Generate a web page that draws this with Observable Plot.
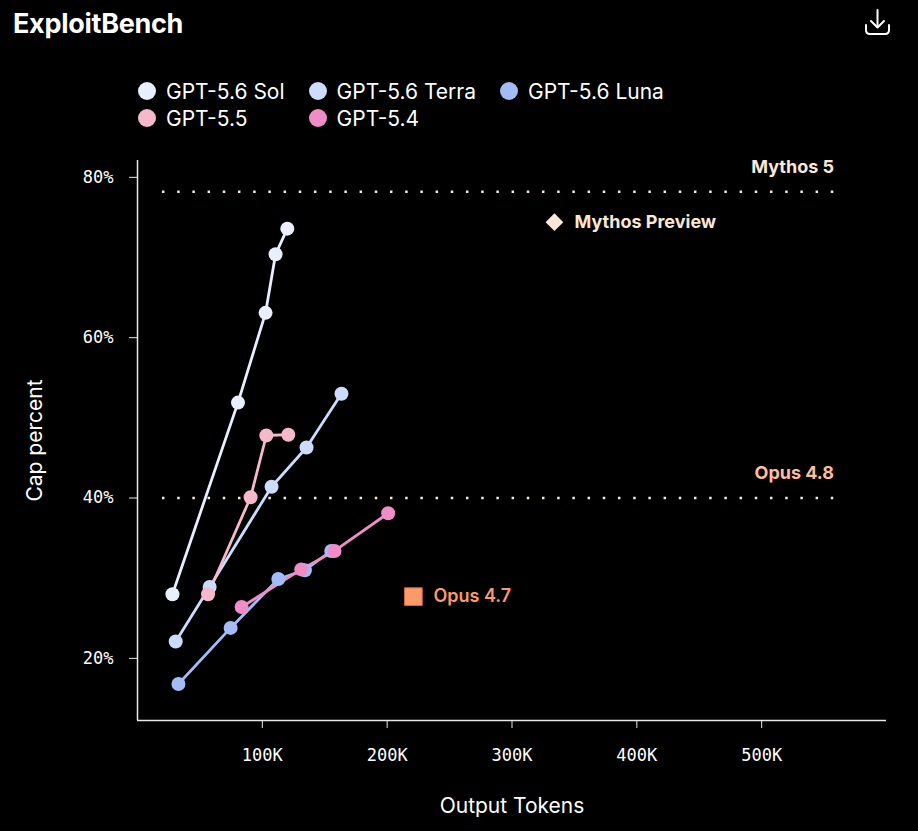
<!DOCTYPE html>
<html>
<head>
<meta charset="utf-8">
<script src="https://cdn.jsdelivr.net/npm/d3@7"></script>
<script src="https://cdn.jsdelivr.net/npm/@observablehq/plot@0.6"></script>
<style>
  html, body { margin: 0; padding: 0; background: #000; }
  #root { position: relative; width: 918px; height: 831px; background: #000; overflow: hidden; }
  #header { position: relative; width: 918px; height: 140px; }
  #title { position: absolute; left: 13px; top: 7px; font-family: Inter, sans-serif; font-weight: 700; font-size: 27px; color: #fff; letter-spacing: -0.3px; }
  #icon { position: absolute; left: 863px; top: 8px; }
  #legend { position: absolute; left: 138px; top: 78px; display: grid; grid-template-columns: repeat(3, auto); column-gap: 24px; row-gap: 1px; font-family: Inter, sans-serif; font-size: 21px; color: #fff; }
  .item { display: flex; align-items: center; gap: 10px; height: 26px; }
  .sw { width: 18px; height: 18px; border-radius: 50%; flex: none; }
</style>
</head>
<body>
<div id="root">
  <div id="header">
    <div id="title">ExploitBench</div>
    <svg id="icon" width="30" height="30" viewBox="0 0 30 30" fill="none" stroke="#fff" stroke-width="2" stroke-linecap="round" stroke-linejoin="round">
      <path d="M14.5 2 V19"/>
      <path d="M8 13 L14.5 19.5 L21 13"/>
      <path d="M3 17 V22 Q3 26 7 26 H22 Q26 26 26 22 V17"/>
    </svg>
    <div id="legend"></div>
  </div>
  <div id="chart"></div>
</div>
<script>
// ---- data ----
const seriesNames = ["GPT-5.6 Sol", "GPT-5.6 Terra", "GPT-5.6 Luna", "GPT-5.5", "GPT-5.4"];
const seriesColors = ["#e9efff", "#cddcfc", "#a3bbf6", "#f5b9cc", "#f08dc8"];

const solTokens = [28000, 80500, 102600, 110600, 120000];
const solCap = [28.0, 51.9, 63.1, 70.4, 73.6];
const terraTokens = [30600, 57800, 107400, 135400, 163400];
const terraCap = [22.1, 28.9, 41.4, 46.3, 53.0];
const lunaTokens = [32800, 74600, 112800, 134100, 155200];
const lunaCap = [16.8, 23.8, 29.9, 31.0, 33.4];
const gpt55Tokens = [56500, 90600, 103200, 120800];
const gpt55Cap = [28.0, 40.1, 47.8, 47.9];
const gpt54Tokens = [83400, 131200, 157800, 200800];
const gpt54Cap = [26.4, 31.1, 33.4, 38.1];

const refNames = ["Mythos 5", "Opus 4.8"];
const refValues = [78.2, 40];
const refStart = [20000, 20000];
const refEnd = [558000, 558000];
const refLabelColors = ["#fbe7d5", "#fcbd9e"];

const pointNames = ["Mythos Preview", "Opus 4.7"];
const pointTokens = [334000, 221000];
const pointCap = [74.4, 27.7];

const xTicks = [100000, 200000, 300000, 400000, 500000];
const yTicks = [20, 40, 60, 80];
const xDomain = [0, 600000];
const yDomain = [12.25, 82.1];

// ---- build tables ----
const tokenLists = [solTokens, terraTokens, lunaTokens, gpt55Tokens, gpt54Tokens];
const capLists = [solCap, terraCap, lunaCap, gpt55Cap, gpt54Cap];
const rows = [];
seriesNames.forEach((s, i) => {
  tokenLists[i].forEach((t, j) => rows.push({series: s, tokens: t, cap: capLists[i][j]}));
});
const refs = refNames.map((n, i) => ({name: n, value: refValues[i], x1: refStart[i], x2: refEnd[i], color: refLabelColors[i]}));
const pts = pointNames.map((n, i) => ({name: n, tokens: pointTokens[i], cap: pointCap[i]}));

// ---- legend ----
const legend = document.getElementById("legend");
seriesNames.forEach((s, i) => {
  const it = document.createElement("div");
  it.className = "item";
  it.innerHTML = `<span class="sw" style="background:${seriesColors[i]}"></span><span>${s}</span>`;
  legend.appendChild(it);
});

const mono = "'DejaVu Sans Mono', monospace";
const axisColor = "#e8e8e8";

const chart = Plot.plot({
  width: 918,
  height: 691,
  marginTop: 20,
  marginBottom: 111,
  marginLeft: 137,
  marginRight: 32,
  style: {background: "#000", color: "#fff", fontFamily: "Inter, sans-serif", overflow: "visible"},
  x: {domain: xDomain},
  y: {domain: yDomain},
  color: {domain: seriesNames, range: seriesColors},
  marks: [
    Plot.ruleX([xDomain[0]], {stroke: axisColor, strokeWidth: 1.5}),
    Plot.ruleY([yDomain[0]], {stroke: axisColor, strokeWidth: 1.5}),
    Plot.axisY({ticks: yTicks, tickFormat: d => d + "%", tickSize: 8, tickPadding: 16, stroke: axisColor, fill: "#fff", fontFamily: mono, fontSize: 17, label: null}),
    Plot.axisX({ticks: xTicks, tickFormat: d => (d / 1000) + "K", tickSize: 8, tickPadding: 20, stroke: axisColor, fill: "#fff", fontFamily: mono, fontSize: 17, label: null}),
    Plot.text(["Cap percent"], {frameAnchor: "left", textAnchor: "middle", lineAnchor: "middle", rotate: -90, dx: -102, fill: "#fff", fontSize: 21}),
    Plot.text(["Output Tokens"], {frameAnchor: "bottom", lineAnchor: "middle", dy: 86, fill: "#fff", fontSize: 21}),
    Plot.ruleY(refs, {y: "value", x1: "x1", x2: "x2", stroke: "#fbe7d5", strokeWidth: 2.5, strokeDasharray: "2.5 12.7"}),
    Plot.text(refs, {x: 558000, y: "value", text: "name", textAnchor: "end", dy: -25, fill: "color", fontWeight: 700, fontSize: 18}),
    Plot.line(rows, {x: "tokens", y: "cap", z: "series", stroke: "series", strokeWidth: 2.8}),
    Plot.dot(rows, {x: "tokens", y: "cap", fill: "series", r: 7}),
    Plot.dot(pts.slice(0, 1), {x: "tokens", y: "cap", symbol: "diamond2", r: 8, fill: "#fbe7d5"}),
    Plot.dot(pts.slice(1, 2), {x: "tokens", y: "cap", symbol: "square", r: 10, fill: "#fd9a68", stroke: "#c8683e", strokeWidth: 1}),
    Plot.text(pts.slice(0, 1), {x: "tokens", y: "cap", text: "name", textAnchor: "start", dx: 20, fill: "#fbe7d5", fontWeight: 700, fontSize: 18}),
    Plot.text(pts.slice(1, 2), {x: "tokens", y: "cap", text: "name", textAnchor: "start", dx: 20, fill: "#fd9a68", fontWeight: 600, fontSize: 18})
  ]
});
document.getElementById("chart").appendChild(chart);
</script>
</body>
</html>
